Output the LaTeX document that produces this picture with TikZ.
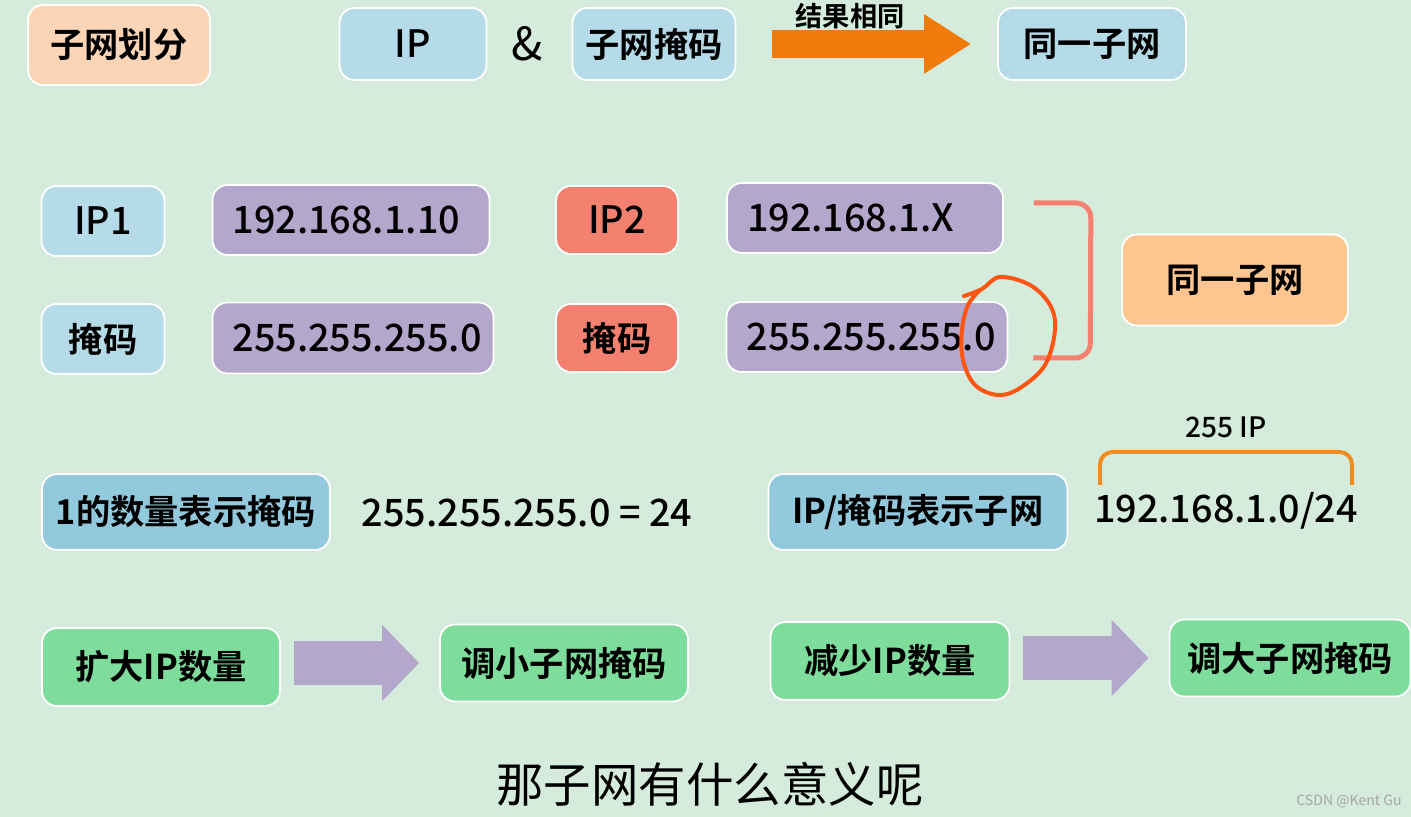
\documentclass[tikz,border=0pt]{standalone}
\usepackage{fontspec}
\setmainfont{Noto Sans CJK SC}[BoldFont={Noto Sans CJK SC Bold}]
\newfontfamily\numfont{Noto Sans CJK SC Medium}
\usepackage{tikz}
\usetikzlibrary{calc,arrows.meta}
\definecolor{bgGreen}{HTML}{D5EBDC}
\definecolor{peach}{HTML}{FBD5B6}
\definecolor{lightBlue}{HTML}{B5DAE8}
\definecolor{midBlue}{HTML}{92C9DC}
\definecolor{lilac}{HTML}{B3A7CC}
\definecolor{salmon}{HTML}{F4806F}
\definecolor{apricot}{HTML}{FDC58F}
\definecolor{mint}{HTML}{7EDD9C}
\definecolor{arrowOrange}{HTML}{F07A0A}
\definecolor{braceOrange}{HTML}{F08C20}
\definecolor{penRed}{HTML}{FF5512}

\begin{document}
\begin{tikzpicture}[x=0.02cm, y=-0.02cm,
    box/.style={draw=white, line width=1pt, rounded corners=0.3cm,
                inner sep=0pt, font=\bfseries\fontsize{19.5}{20}\selectfont},
    addr/.style={box, fill=lilac, text width=#1, align=left, inner xsep=0.4cm,
                 font=\numfont\fontsize{21.5}{22}\selectfont},
    num/.style={font=\numfont\fontsize{21.5}{22}\selectfont},
    bigArrow/.style={draw=lilac, line width=0.9cm,
                     -{Triangle[length=0.74cm, width=1.48cm]},
                     shorten <=0.26cm, shorten >=0.4cm}]
  \useasboundingbox (0,0) rectangle (1411,817);
  \fill[bgGreen] (0,0) rectangle (1411,817);

  % top row
  \node[box, fill=peach, minimum width=3.64cm, minimum height=1.6cm] (sub) at (119,45) {子网划分};
  \node[box, fill=lightBlue, minimum width=2.94cm, minimum height=1.44cm,
        num] (ip) at (413,44) {IP};
  \node[font=\fontsize{26}{26}\selectfont] (amp) at (527,44) {\&};
  \node[box, fill=lightBlue, minimum width=3.26cm, minimum height=1.44cm] (mask) at (654,44) {子网掩码};
  \node[box, fill=lightBlue, minimum width=3.76cm, minimum height=1.44cm] (same) at (1092,44) {同一子网};
  \draw[draw=arrowOrange, line width=0.56cm, -{Triangle[length=0.94cm, width=1.12cm]},
        shorten <=0.72cm, shorten >=0.52cm] (mask.east) -- (same.west);
  \node[font=\bfseries\fontsize{15.5}{16}\selectfont] (result) at (850,16) {结果相同};

  % two addresses
  \node[box, fill=lightBlue, minimum width=2.46cm, minimum height=1.4cm,
        num] (ipA) at (103,221) {IP1};
  \node[addr=4.74cm, minimum height=1.4cm] (addrA) at (351,220) {192.168.1.10};
  \node[box, fill=salmon, minimum width=2.44cm, minimum height=1.36cm,
        num] (ipB) at (617,220) {IP2};
  \node[addr=4.72cm, minimum height=1.4cm] (addrB) at (865,218) {192.168.1.X};
  \node[box, fill=lightBlue, minimum width=2.46cm, minimum height=1.4cm] (maskA) at (103,339) {掩码};
  \node[addr=4.82cm, minimum height=1.42cm] (netA) at (353,338) {255.255.255.0};
  \node[box, fill=salmon, minimum width=2.44cm, minimum height=1.36cm] (maskB) at (617,338) {掩码};
  \node[addr=4.82cm, minimum height=1.4cm] (netB) at (867,337) {255.255.255.0};
  \draw[salmon, line width=0.1cm, rounded corners=0.3cm]
    ($(addrB.east)+(30,-15)$) -- ++(57,0) -- ($(netB.east)+(82,21)$) -- ++(-57,0);
  \node[box, fill=apricot, minimum width=4.52cm, minimum height=1.82cm] (same2) at (1235,280) {同一子网};
  \draw[penRed, line width=0.08cm, line cap=round] plot[smooth, tension=0.6] coordinates
    {(964,296) (982,289) (1000,277) (1030,285) (1050,305) (1055,330) (1045,365)
     (1020,388) (998,395) (975,385) (963,360) (962,330) (968,305) (980,290)};

  % notation
  \node[box, fill=midBlue, minimum width=5.76cm, minimum height=1.52cm] (count) at (186,512) {1的数量表示掩码};
  \node[num] (eq) at (527,513) {255.255.255.0 = 24};
  \node[box, fill=midBlue, minimum width=5.98cm, minimum height=1.52cm] (cidrBox) at (918,512) {IP/掩码表示子网};
  \node[num] (cidrTxt) at (1226,511) {192.168.1.0/24};
  \draw[braceOrange, line width=0.08cm, rounded corners=0.25cm]
    ($(cidrTxt)+(-126,-26)$) -- ++(0,-33) -- ++(252,0) -- ++(0,33);
  \node[font=\numfont\fontsize{16}{16}\selectfont] (hosts) at (1226,427) {255 IP};

  % bottom row
  \node[box, fill=mint, minimum width=4.76cm, minimum height=1.56cm] (more) at (161,667) {扩大IP数量};
  \node[box, fill=mint, minimum width=4.96cm, minimum height=1.54cm] (small) at (564,663) {调小子网掩码};
  \node[box, fill=mint, minimum width=4.78cm, minimum height=1.56cm] (less) at (890,661) {减少IP数量};
  \node[box, fill=mint, minimum width=4.82cm, minimum height=1.54cm] (big) at (1290,658) {调大子网掩码};
  \draw[bigArrow] (more.east |- small.west) -- (small.west);
  \draw[bigArrow] (less.east |- big.west) -- (big.west);

  \node[font=\fontsize{27}{27}\selectfont] (question) at (710,784) {那子网有什么意义呢};
  \node[font=\fontsize{8}{8}\selectfont, text=black!35] (mark) at (1349,801) {CSDN @Kent Gu};
\end{tikzpicture}
\end{document}
